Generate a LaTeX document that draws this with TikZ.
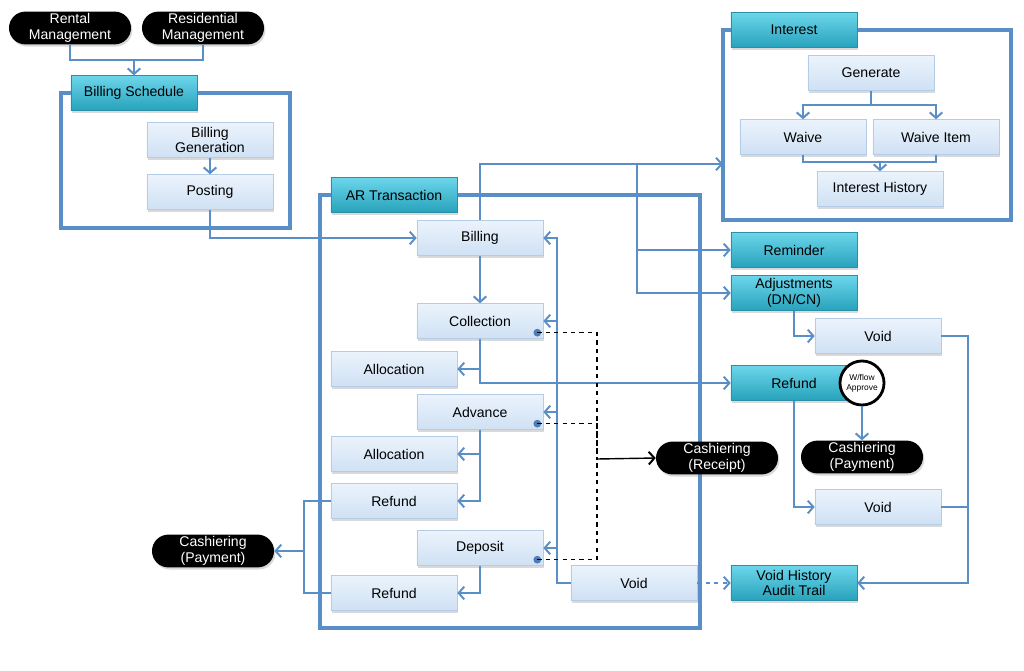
\documentclass[tikz,border=0pt]{standalone}
\usepackage{fontspec}
\setmainfont{Liberation Sans}
\usetikzlibrary{positioning, arrows.meta, shapes.misc, shadows, backgrounds, calc}
\definecolor{lineBlue}{HTML}{5A8EC6}
\definecolor{dotBlue}{HTML}{4C7DB4}
\definecolor{tealTop}{HTML}{6CD6EA}
\definecolor{tealBot}{HTML}{27A2BC}
\definecolor{tealEdge}{HTML}{2B8FA6}
\definecolor{paleTop}{HTML}{EBF3FC}
\definecolor{paleBot}{HTML}{CFE1F4}
\definecolor{paleEdge}{HTML}{B5CCE6}
\tikzset{
  every node/.style={font=\fontsize{10}{11}\selectfont, align=center},
  conn/.style={draw=lineBlue, line width=1.2pt},
  arr/.style={conn, -{Straight Barb[length=4pt, width=9pt, line width=1.4pt]}},
  arrd/.style={arr, dashed},
  frame/.style={draw=lineBlue, line width=2.2pt},
  box/.style={rectangle, minimum width=3.15cm, minimum height=0.87cm, inner sep=1pt,
              drop shadow={shadow xshift=1pt, shadow yshift=-1.5pt, opacity=0.3}},
  boxTeal/.style={box, top color=tealTop, bottom color=tealBot, draw=tealEdge},
  boxPale/.style={box, top color=paleTop, bottom color=paleBot, draw=paleEdge},
  pill/.style={rounded rectangle, fill=black, text=white, minimum width=3.12cm,
               minimum height=0.82cm, inner sep=1pt,
               drop shadow={shadow xshift=1pt, shadow yshift=-1.5pt, opacity=0.3}},
  wflow/.style={circle, draw=black, line width=2pt, fill=white, minimum size=1.1cm,
                inner sep=0pt, font=\fontsize{6}{7}\selectfont},
  dotpt/.style={circle, fill=dotBlue, inner sep=0pt, minimum size=5.5pt},
  cashd/.style={draw=black, dashed, line width=0.9pt},
  cash/.style={draw=black, line width=1pt, -{Straight Barb[length=4pt, width=9pt, line width=1.4pt]}},
}

\begin{document}
\begin{tikzpicture}[x=0.025cm, y=-0.025cm]
  \useasboundingbox (0,0) rectangle (1024,670);
  % sources
  \node[pill] (rental) at (70,28) {Rental\\Management};
  \node[pill] (resid) at (203,28) {Residential\\Management};
  \node[boxTeal] (bsched) at (134,93) {Billing Schedule};
  \node[boxPale] (bgen) at (210,140) {Billing\\Generation};
  \node[boxPale] (post) at (210,192) {Posting};
  \coordinate (mgmtjoin) at (bsched.north |- 0,60);
  % AR transaction
  \node[boxTeal] (artx) at (394,195) {AR Transaction};
  \node[boxPale] (bill) at (480,238) {Billing};
  \node[boxPale] (coll) at (480,321) {Collection};
  \node[boxPale] (alloc1) at (394,369) {Allocation};
  \node[boxPale] (adv) at (480,412) {Advance};
  \node[boxPale] (alloc2) at (394,454) {Allocation};
  \node[boxPale] (ref1) at (394,501) {Refund};
  \node[boxPale] (dep) at (480,548) {Deposit};
  \node[boxPale] (ref2) at (394,593) {Refund};
  \node[boxPale] (arvoid) at (634,583) {Void};
  \node[pill] (cashpayL) at (213,551) {Cashiering\\(Payment)};
  \node[pill] (cashrec) at (717,458) {Cashiering\\(Receipt)};
  \node[dotpt] (colld) at ([shift={(-6,-6)}]coll.south east) {};
  \node[dotpt] (advd) at ([shift={(-6,-6)}]adv.south east) {};
  \node[dotpt] (depd) at ([shift={(-6,-6)}]dep.south east) {};
  \coordinate (voidbus) at (557,583);
  \coordinate (cashjoin) at (597,459);
  \coordinate (payjoin) at (304,551);
  \coordinate (arbus) at (637,164);
  % interest
  \node[boxTeal] (interest) at (794,30) {Interest};
  \node[boxPale] (gen) at (871,73) {Generate};
  \node[boxPale] (waive) at (803,137) {Waive};
  \node[boxPale] (waiveit) at (936,137) {Waive Item};
  \node[boxPale] (inthist) at (880,189) {Interest History};
  \coordinate (intin) at (723,164);
  % right column
  \node[boxTeal] (remind) at (794,250) {Reminder};
  \node[boxTeal] (adj) at (794,293) {Adjustments\\(DN/CN)};
  \node[boxPale] (void1) at (878,336) {Void};
  \node[boxTeal] (refT) at (794,383) {Refund};
  \node[wflow] (wf) at (862,383) {W/flow\\Approve};
  \node[pill] (cashpayR) at (862,457) {Cashiering\\(Payment)};
  \node[boxPale] (void2) at (878,507) {Void};
  \node[boxTeal] (vhist) at (794,583) {Void History\\Audit Trail};
  \coordinate (vhbus) at (968,583);

  \begin{scope}[on background layer]
    \draw[frame] (bsched.east) -| (290,228) -| (61,93) -- (bsched.west);
    \draw[frame] (artx.east) -| (700,628) -| (320,195) -- (artx.west);
    \draw[frame] (interest.east) -| (1011,220) -| (723,30) -- (interest.west);
  \end{scope}

  \draw[conn] (rental.south) |- (mgmtjoin) -| (resid.south);
  \draw[arr] (mgmtjoin) -- (bsched.north);
  \draw[arr] (bgen) -- (post);
  \draw[arr] (post.south) |- (bill.west);
  \draw[arr] (bill) -- (coll);
  \draw[arr] (coll.south) |- (alloc1.east);
  \draw[arr] (coll.south) |- (refT.west);
  \draw[arr] (adv.south) |- (alloc2.east);
  \draw[arr] (adv.south) |- (ref1.east);
  \draw[arr] (dep.south) |- (ref2.east);
  \draw[conn] (ref1.west) -| (payjoin) |- (ref2.west);
  \draw[arr] (payjoin) -- (cashpayL.east);
  \foreach \n in {bill, coll, adv, dep}
    \draw[arr] (arvoid.west) -| (voidbus |- \n.east) -- (\n.east);
  \draw[arrd] (arvoid.east) -- (vhist.west);
  % cashiering receipt
  \draw[cashd] (colld.center) -| (cashjoin);
  \draw[cashd] (advd.center) -| (cashjoin);
  \draw[cashd] (depd.center) -| (cashjoin);
  \draw[cash] (cashjoin) -- (cashrec.west);
  % out of billing
  \draw[arr] (bill.north) |- (intin);
  \draw[arr] (arbus) |- (remind.west);
  \draw[arr] (arbus) |- (adj.west);
  \draw[conn] (gen.south) -- ++(0,14) coordinate (genj);
  \draw[arr] (genj) -| (waive.north);
  \draw[arr] (genj) -| (waiveit.north);
  \draw[conn] (waive.south) |- (inthist.north |- 0,162) coordinate (histj) -| (waiveit.south);
  \draw[arr] (histj) -- (inthist.north);
  \draw[arr] (adj.south) |- (void1.west);
  \draw[arr] (refT.south) |- (void2.west);
  \draw[arr] (wf.south) -- (cashpayR.north);
  \draw[arr] (void1.east) -| (vhbus) -- (vhist.east);
  \draw[conn] (void2.east) -- (void2.east -| vhbus);
\end{tikzpicture}
\end{document}
